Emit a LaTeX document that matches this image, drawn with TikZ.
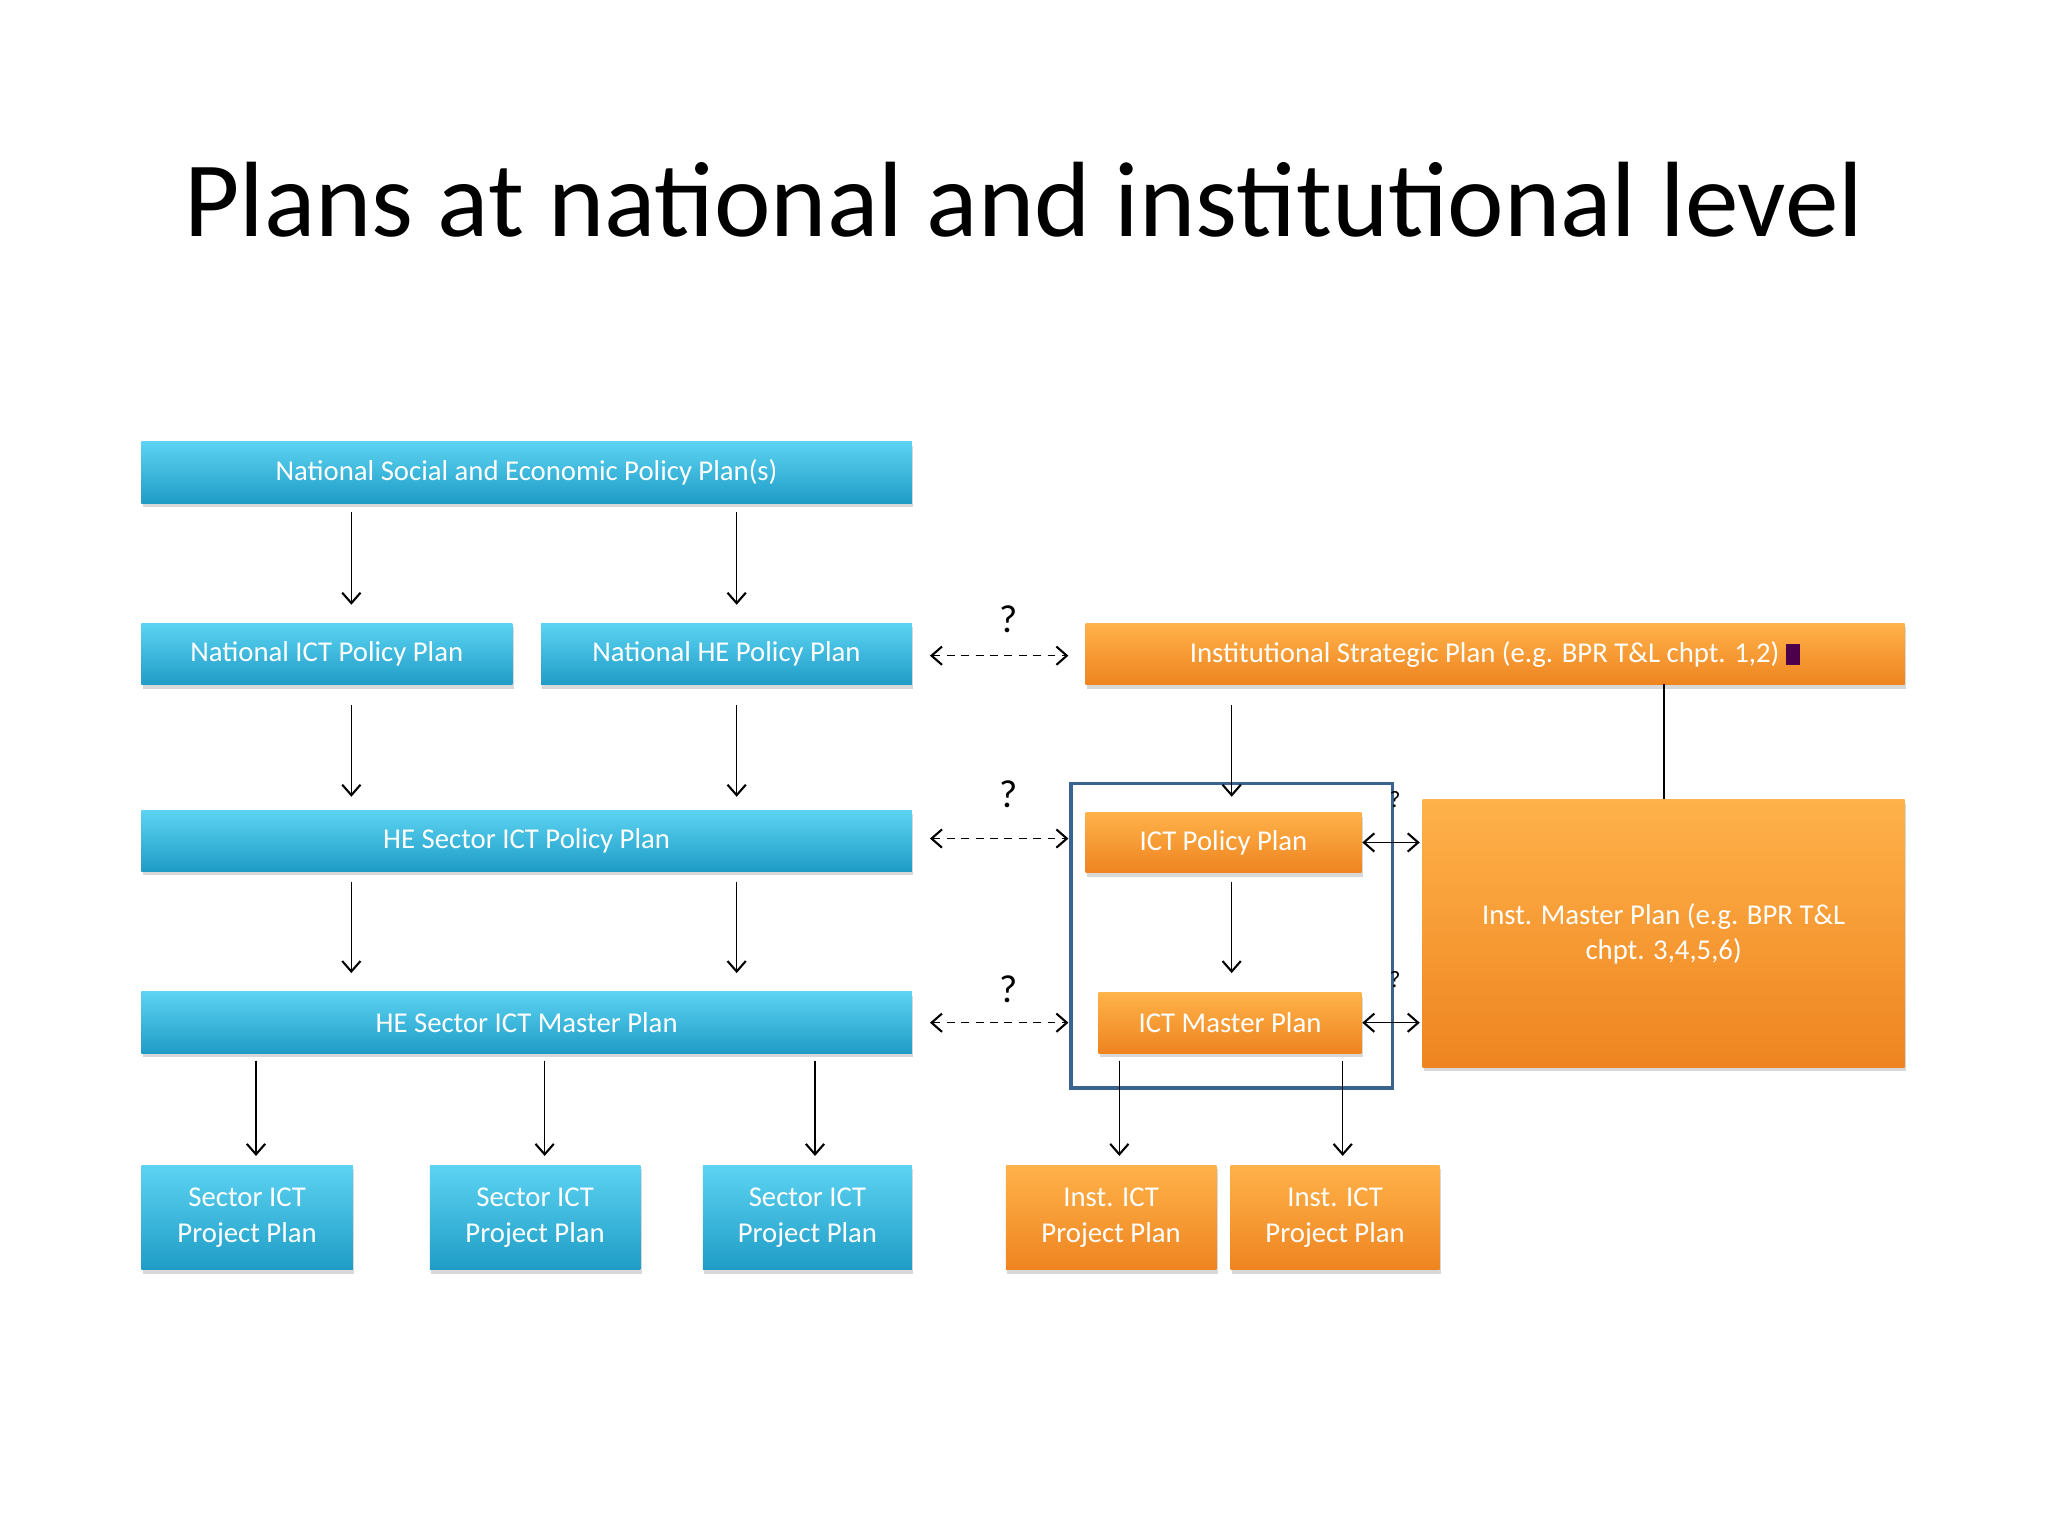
\documentclass[tikz,border=0pt]{standalone}
\usepackage{fontspec}
\setmainfont{Carlito}
\usetikzlibrary{arrows.meta,shadows}
\definecolor{btop}{HTML}{5CD3F2}
\definecolor{bbot}{HTML}{1F9CC6}
\definecolor{otop}{HTML}{FFB24A}
\definecolor{obot}{HTML}{EE8420}
\definecolor{frame}{HTML}{3A6390}
\tikzset{
 bx/.style={draw=none,top color=btop,bottom color=bbot,text=white,font=\fontsize{22}{27}\selectfont,align=center,inner sep=0pt,drop shadow={opacity=0.3,shadow xshift=1pt,shadow yshift=-3pt}},
 ox/.style={bx,top color=otop,bottom color=obot},
 ar/.style={-{Straight Barb[length=8pt,width=14pt,line width=1.6pt]},line width=0.9pt},
 dar/.style={{Straight Barb[length=8pt,width=14pt,line width=1.6pt]}-{Straight Barb[length=8pt,width=14pt,line width=1.6pt]},line width=0.9pt,dash pattern=on 6pt off 5pt},
 sar/.style={{Straight Barb[length=8pt,width=14pt,line width=1.6pt]}-{Straight Barb[length=8pt,width=14pt,line width=1.6pt]},line width=0.9pt},
 q/.style={font=\fontsize{30}{30}\selectfont}
}
\newcommand{\bbox}[7]{\node[#1,minimum width={(#5-#3)*1pt},minimum height={(#6-#4)*1pt},anchor=north west] (#2) at (#3,#4) {#7};}
\begin{document}
\begin{tikzpicture}[x=1pt,y=-1pt]
\useasboundingbox[fill=white] (0,0) rectangle (1568,1176);
\fill[white!97!blue!40!white] (0,0) rectangle (1568,1176);
\fill[white] (0,0) rectangle (1568,1176);
\node[font=\fontsize{82}{90}\selectfont] (title) at (784,153) {Plans at national and institutional level};
\bbox{bx}{n1}{108}{338}{698}{385}{National Social and Economic Policy Plan(s)}
\bbox{bx}{n2}{108}{477}{392}{524}{National ICT Policy Plan}
\bbox{bx}{n3}{414}{477}{698}{524}{National HE Policy Plan}
\bbox{bx}{n4}{108}{620}{698}{667}{HE Sector ICT Policy Plan}
\bbox{bx}{n5}{108}{759}{698}{806}{HE Sector ICT Master Plan}
\bbox{bx}{s1}{108}{892}{270}{972}{Sector ICT\\Project Plan}
\bbox{bx}{s2}{329}{892}{490}{972}{Sector ICT\\Project Plan}
\bbox{bx}{s3}{538}{892}{698}{972}{Sector ICT\\Project Plan}
\bbox{ox}{o1}{831}{477}{1458}{524}{Institutional Strategic Plan (e.g. BPR T\&L chpt. 1,2) \textcolor{violet!60!black}{\rule[-2pt]{11pt}{16pt}}}
\bbox{ox}{o2}{831}{622}{1042}{668}{ICT Policy Plan}
\bbox{ox}{o3}{841}{760}{1042}{806}{ICT Master Plan}
\bbox{ox}{o4}{1089}{612}{1458}{817}{Inst. Master Plan (e.g. BPR T\&L\\chpt. 3,4,5,6)}
\bbox{ox}{i1}{770}{892}{931}{972}{Inst. ICT\\Project Plan}
\bbox{ox}{i2}{942}{892}{1102}{972}{Inst. ICT\\Project Plan}
\draw[frame,line width=2.5pt] (820,600) rectangle (1066,833);
% coordinates
\foreach \x/\a/\b/\n in {269/392/463/a,564/392/463/b,269/540/610/c,564/540/610/d,269/675/745/e,564/675/745/f,196/812/885/g,417/812/885/h,624/812/885/i,943/540/610/j,943/675/745/k,857/812/885/l,1028/812/885/m}{
 \coordinate (\n1) at (\x,\a); \coordinate (\n2) at (\x,\b);
 \draw[ar] (\n1) -- (\n2);}
\coordinate (t1) at (1274,524); \coordinate (t2) at (1274,612);
\draw[line width=0.9pt] (t1) -- (t2);
\foreach \y/\n in {502/p,642/r,783/s}{
 \coordinate (\n1) at (712,\y); \coordinate (\n2) at (818,\y);
 \draw[dar] (\n1) -- (\n2);}
\node[q] (q1) at (772,474) {?};
\node[q] (q2) at (772,608) {?};
\node[q] (q3) at (772,757) {?};
\coordinate (u1) at (1043,645); \coordinate (u2) at (1087,645);
\coordinate (v1) at (1043,783); \coordinate (v2) at (1087,783);
\draw[sar] (u1) -- (u2);
\draw[sar] (v1) -- (v2);
\node[font=\fontsize{18}{18}\selectfont] (q4) at (1068,612) {?};
\node[font=\fontsize{18}{18}\selectfont] (q5) at (1068,750) {?};
\end{tikzpicture}
\end{document}
